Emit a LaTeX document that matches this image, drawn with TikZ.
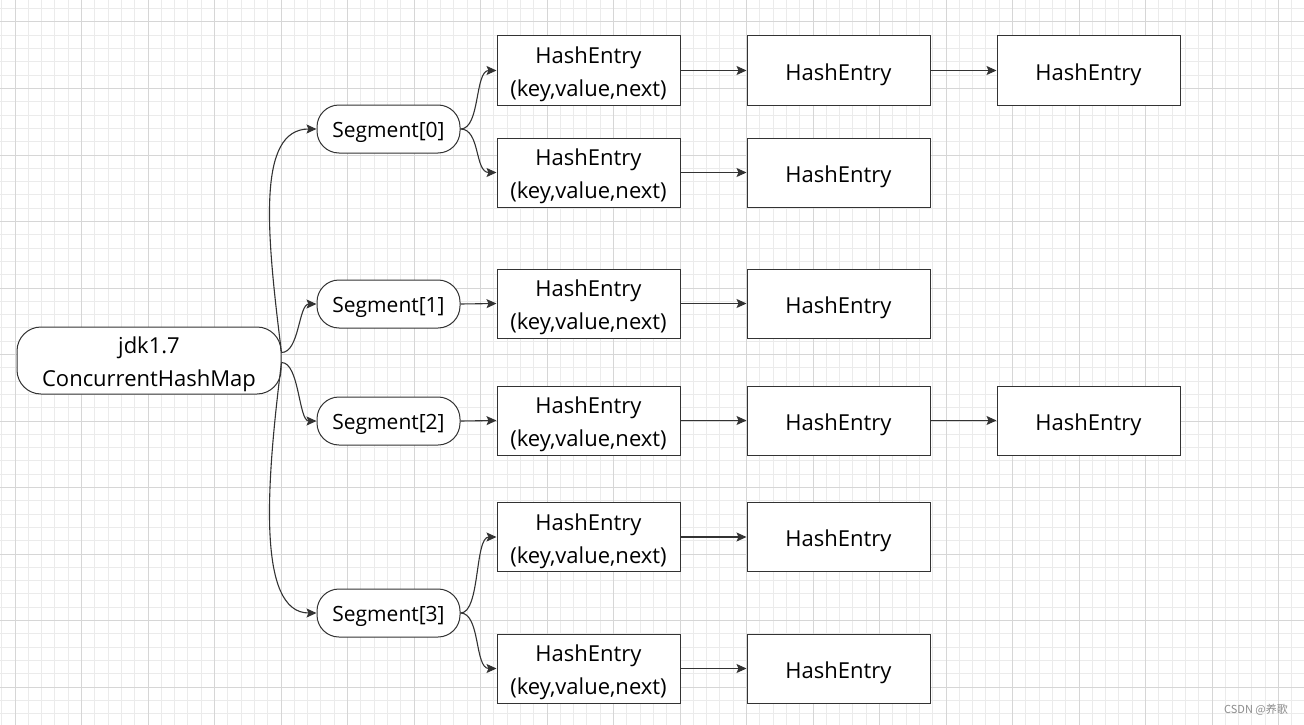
\documentclass[tikz,border=0pt]{standalone}
\usepackage{fontspec}
\setmainfont{Open Sans}
\newfontfamily\cjk{Noto Sans CJK SC}
\usetikzlibrary{arrows.meta}
\definecolor{linegray}{HTML}{333333}
\definecolor{minorgrid}{HTML}{EBEBEB}
\definecolor{majorgrid}{HTML}{D6D6D6}
\tikzset{
  root/.style={draw=linegray, fill=white, line width=1pt, rounded corners=24pt,
    minimum width=264pt, minimum height=67pt, align=center, inner ysep=1pt,
    text height=58pt, text depth=5.6pt,
    font=\fontsize{22}{33}\selectfont},
  seg/.style={draw=linegray, fill=white, line width=1pt, rounded corners=22pt,
    minimum width=143pt, minimum height=48pt, text height=22pt, text depth=5pt,
    font=\fontsize{21}{26}\selectfont},
  entry/.style={draw=linegray, fill=white, line width=1pt, minimum width=183pt,
    minimum height=69pt, align=center, text height=25.3pt, text depth=6pt,
    font=\fontsize{22}{33}\selectfont},
  field/.style={entry, inner ysep=1pt, text height=58pt, text depth=5.6pt},
  link/.style={draw=linegray, line width=1.1pt,
    -{Stealth[length=10pt,width=9pt,inset=2pt]}}
}
\begin{document}
\begin{tikzpicture}[x=1pt,y=-1pt]
  \useasboundingbox[fill=white] (0,0) rectangle (1304,725);
  % grid paper
  \foreach \i in {-1,...,97}
    \draw[minorgrid, line width=1pt] ({15+13.3*\i},0) -- ({15+13.3*\i},725);
  \foreach \i in {-1,...,53}
    \draw[minorgrid, line width=1pt] (0,{22+13.3*\i}) -- (1304,{22+13.3*\i});
  \foreach \i in {0,...,19}
    \draw[majorgrid, line width=1pt] ({15+66.5*\i},0) -- ({15+66.5*\i},725);
  \foreach \i in {0,...,10}
    \draw[majorgrid, line width=1pt] (0,{22+66.5*\i}) -- (1304,{22+66.5*\i});

  \node[root] (map) at (149,360.5) {jdk1.7\\ConcurrentHashMap};

  \node[seg] (s0) at (388.5,129) {Segment[0]};
  \node[seg] (s1) at (388.5,304) {Segment[1]};
  \node[seg] (s2) at (388.5,421) {Segment[2]};
  \node[seg] (s3) at (388.5,613) {Segment[3]};

  \node[field] (e00) at (588.5,70.5) {HashEntry\\(key,value,next)};
  \node[entry] (e01) at (838.5,70.5) {HashEntry};
  \node[entry] (e02) at (1088.5,70.5) {HashEntry};
  \node[field] (e10) at (588.5,172.5) {HashEntry\\(key,value,next)};
  \node[entry] (e11) at (838.5,172.5) {HashEntry};
  \node[field] (e20) at (588.5,303.5) {HashEntry\\(key,value,next)};
  \node[entry] (e21) at (838.5,303.5) {HashEntry};
  \node[field] (e30) at (588.5,420.5) {HashEntry\\(key,value,next)};
  \node[entry] (e31) at (838.5,420.5) {HashEntry};
  \node[entry] (e32) at (1088.5,420.5) {HashEntry};
  \node[field] (e40) at (588.5,537) {HashEntry\\(key,value,next)};
  \node[entry] (e41) at (838.5,537) {HashEntry};
  \node[field] (e50) at (588.5,668.5) {HashEntry\\(key,value,next)};
  \node[entry] (e51) at (838.5,668.5) {HashEntry};

  \node[font=\cjk\fontsize{11}{13}\selectfont, text=black!45] (mark) at (1256,710) {CSDN @养歌};

  \begin{scope}[link]
    \draw ([yshift=8pt]map.east) .. controls +(-15,-120) and +(-60,0) .. (s0.west);
    \draw ([yshift=8pt]map.east) .. controls +(18,0) and +(-18,0) .. (s1.west);
    \draw ([yshift=-2pt]map.east) .. controls +(18,0) and +(-18,0) .. (s2.west);
    \draw ([yshift=-2pt]map.east) .. controls +(-15,120) and +(-60,0) .. (s3.west);
    \draw (s0.east) .. controls +(20,0) and +(-22,0) .. (e00.west);
    \draw (s0.east) .. controls +(20,0) and +(-22,0) .. (e10.west);
    \draw (s1.east) -- (e20.west);
    \draw (s2.east) -- (e30.west);
    \draw (s3.east) .. controls +(20,0) and +(-22,0) .. (e40.west);
    \draw (s3.east) .. controls +(20,0) and +(-22,0) .. (e50.west);
    \draw (e00) -- (e01);
    \draw (e01) -- (e02);
    \draw (e10) -- (e11);
    \draw (e20) -- (e21);
    \draw (e30) -- (e31);
    \draw (e31) -- (e32);
    \draw (e40) -- (e41);
    \draw (e50) -- (e51);
  \end{scope}
\end{tikzpicture}
\end{document}
